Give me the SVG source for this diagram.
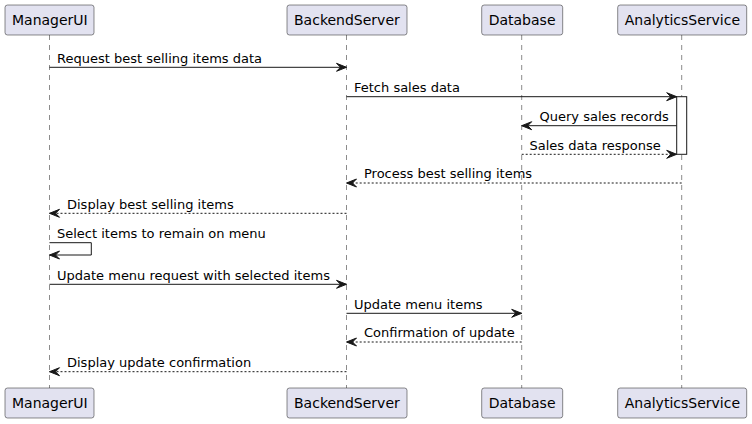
<svg xmlns="http://www.w3.org/2000/svg" width="752" height="424" viewBox="0 0 752 424">
<defs>
<style>
.life{stroke:#181818;stroke-width:0.5;stroke-dasharray:5,5;fill:none}
.box{fill:#E2E2F0;stroke:#181818;stroke-width:0.5}
.pt{font-family:"DejaVu Sans",sans-serif;font-size:14px;fill:#000}
.mt{font-family:"DejaVu Sans",sans-serif;font-size:13px;fill:#000}
.msg{stroke:#181818;stroke-width:1;fill:none}
.dash{stroke-dasharray:2,2}
.act{fill:#FFFFFF;stroke:#181818;stroke-width:1}
</style>
<marker id="ah" viewBox="-1 -1 12 10" refX="10" refY="4" markerWidth="12" markerHeight="10" markerUnits="userSpaceOnUse" orient="auto">
<polygon points="0,0 10,4 0,8 4,4" fill="#181818" stroke="#181818" stroke-width="1" stroke-linejoin="miter"/>
</marker>
</defs>
<g id="lifelines">
<line class="life" x1="49.5" y1="35" x2="49.5" y2="388"/>
<line class="life" x1="346.5" y1="35" x2="346.5" y2="388"/>
<line class="life" x1="521.7" y1="35" x2="521.7" y2="388"/>
<line class="life" x1="681.7" y1="35" x2="681.7" y2="388"/>
</g>
<g id="act-analytics">
<rect class="act" x="676.7" y="96.7" width="10" height="57.6"/>
</g>
<g id="ManagerUI">
<rect class="box" x="5" y="5" width="89" height="30" rx="2.5"/>
<text class="pt" x="12" y="25">ManagerUI</text>
<rect class="box" x="5" y="388" width="89" height="30" rx="2.5"/>
<text class="pt" x="12" y="408">ManagerUI</text>
</g>
<g id="BackendServer">
<rect class="box" x="287" y="5" width="120" height="30" rx="2.5"/>
<text class="pt" x="294" y="25">BackendServer</text>
<rect class="box" x="287" y="388" width="120" height="30" rx="2.5"/>
<text class="pt" x="294" y="408">BackendServer</text>
</g>
<g id="Database">
<rect class="box" x="481.7" y="5" width="81" height="30" rx="2.5"/>
<text class="pt" x="488.7" y="25">Database</text>
<rect class="box" x="481.7" y="388" width="81" height="30" rx="2.5"/>
<text class="pt" x="488.7" y="408">Database</text>
</g>
<g id="AnalyticsService">
<rect class="box" x="617.7" y="5" width="129" height="30" rx="2.5"/>
<text class="pt" x="624.7" y="25">AnalyticsService</text>
<rect class="box" x="617.7" y="388" width="129" height="30" rx="2.5"/>
<text class="pt" x="624.7" y="408">AnalyticsService</text>
</g>
<g id="connectors">
<line class="msg" x1="49.5" y1="67.3" x2="346.5" y2="67.3" marker-end="url(#ah)"/>
<text class="mt" x="57" y="62.5">Request best selling items data</text>
<line class="msg" x1="346.5" y1="96.7" x2="676.7" y2="96.7" marker-end="url(#ah)"/>
<text class="mt" x="354" y="91.9">Fetch sales data</text>
<line class="msg" x1="676.7" y1="125.7" x2="521.7" y2="125.7" marker-end="url(#ah)"/>
<text class="mt" x="539.5" y="120.9">Query sales records</text>
<line class="msg dash" x1="521.7" y1="154.3" x2="676.7" y2="154.3" marker-end="url(#ah)"/>
<text class="mt" x="529.5" y="149.5">Sales data response</text>
<line class="msg dash" x1="681.7" y1="183" x2="346.5" y2="183" marker-end="url(#ah)"/>
<text class="mt" x="364" y="178.2">Process best selling items</text>
<line class="msg dash" x1="346.5" y1="213.3" x2="49.5" y2="213.3" marker-end="url(#ah)"/>
<text class="mt" x="67" y="208.5">Display best selling items</text>
<polyline class="msg" points="49.5,242.7 91.3,242.7 91.3,255 49.5,255" marker-end="url(#ah)"/>
<text class="mt" x="57" y="237.9">Select items to remain on menu</text>
<line class="msg" x1="49.5" y1="284.3" x2="346.5" y2="284.3" marker-end="url(#ah)"/>
<text class="mt" x="57" y="279.5">Update menu request with selected items</text>
<line class="msg" x1="346.5" y1="313.3" x2="521.7" y2="313.3" marker-end="url(#ah)"/>
<text class="mt" x="354" y="308.5">Update menu items</text>
<line class="msg dash" x1="521.7" y1="342" x2="346.5" y2="342" marker-end="url(#ah)"/>
<text class="mt" x="364" y="337.2">Confirmation of update</text>
<line class="msg dash" x1="346.5" y1="371.7" x2="49.5" y2="371.7" marker-end="url(#ah)"/>
<text class="mt" x="67" y="366.9">Display update confirmation</text>
</g>
</svg>
